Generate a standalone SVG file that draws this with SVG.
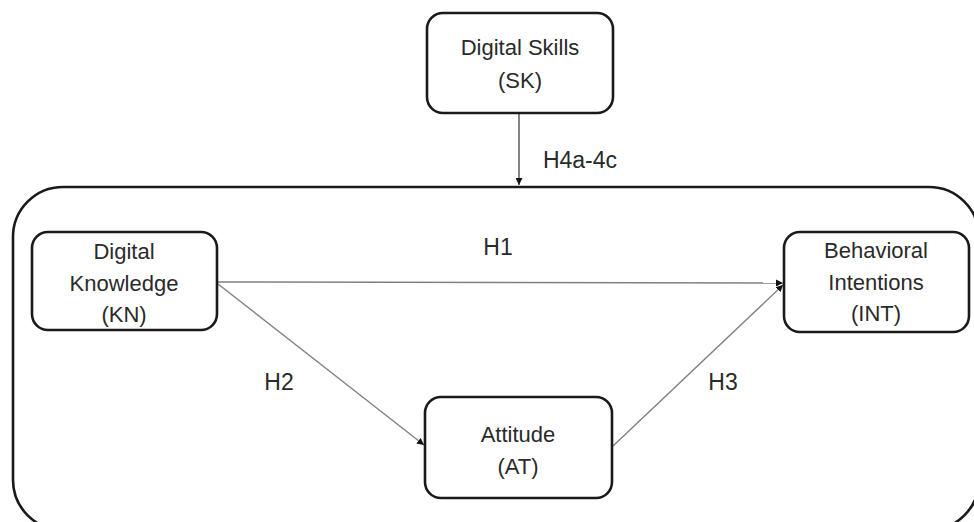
<svg xmlns="http://www.w3.org/2000/svg" width="974" height="522" viewBox="0 0 974 522">
<style>
.box{fill:#fff;stroke:#1a1a1a;stroke-width:2.6}
.outer{fill:none;stroke:#1a1a1a;stroke-width:2.6}
.t{font-family:"Liberation Sans",Arial,sans-serif;font-size:22px;fill:#2a2a2a;text-anchor:middle}
.lbl{font-family:"Liberation Sans",Arial,sans-serif;font-size:23px;fill:#2a2a2a;text-anchor:middle}
.c{stroke:#808080;stroke-width:1.4;fill:none}
.cd{stroke:#333;stroke-width:1.2;fill:none}
</style>
<defs>
<marker id="ah" viewBox="0 0 10 10" refX="10" refY="5" markerWidth="7" markerHeight="7" markerUnits="userSpaceOnUse" orient="auto">
<path d="M0,0 L10,5 L0,10 z" fill="#111"/>
</marker>
</defs>
<rect id="outer-frame" class="outer" x="13" y="187" width="966" height="343" rx="50" ry="50"/>
<g id="connectors">
<line class="cd" x1="519" y1="114" x2="519" y2="185" marker-end="url(#ah)"/>
<line class="c" x1="218" y1="282" x2="783" y2="283" marker-end="url(#ah)"/>
<line class="c" x1="218" y1="284" x2="424" y2="445" marker-end="url(#ah)"/>
<line class="c" x1="613" y1="446" x2="783" y2="285" marker-end="url(#ah)"/>
<text class="lbl" x="580" y="168">H4a-4c</text>
<text class="lbl" x="498" y="255">H1</text>
<text class="lbl" x="279" y="390">H2</text>
<text class="lbl" x="723" y="390">H3</text>
</g>
<g id="SK">
<rect class="box" x="427" y="13" width="186" height="100" rx="16"/>
<text class="t" x="520" y="55">Digital Skills</text>
<text class="t" x="520" y="88">(SK)</text>
</g>
<g id="KN">
<rect class="box" x="32" y="232" width="185" height="98" rx="16"/>
<text class="t" x="124" y="259">Digital</text>
<text class="t" x="124" y="291">Knowledge</text>
<text class="t" x="124" y="322">(KN)</text>
</g>
<g id="INT">
<rect class="box" x="784" y="232" width="185" height="100" rx="16"/>
<text class="t" x="876" y="258">Behavioral</text>
<text class="t" x="876" y="290">Intentions</text>
<text class="t" x="876" y="321">(INT)</text>
</g>
<g id="AT">
<rect class="box" x="425" y="397" width="187" height="101" rx="16"/>
<text class="t" x="518" y="442">Attitude</text>
<text class="t" x="518" y="474">(AT)</text>
</g>
</svg>
